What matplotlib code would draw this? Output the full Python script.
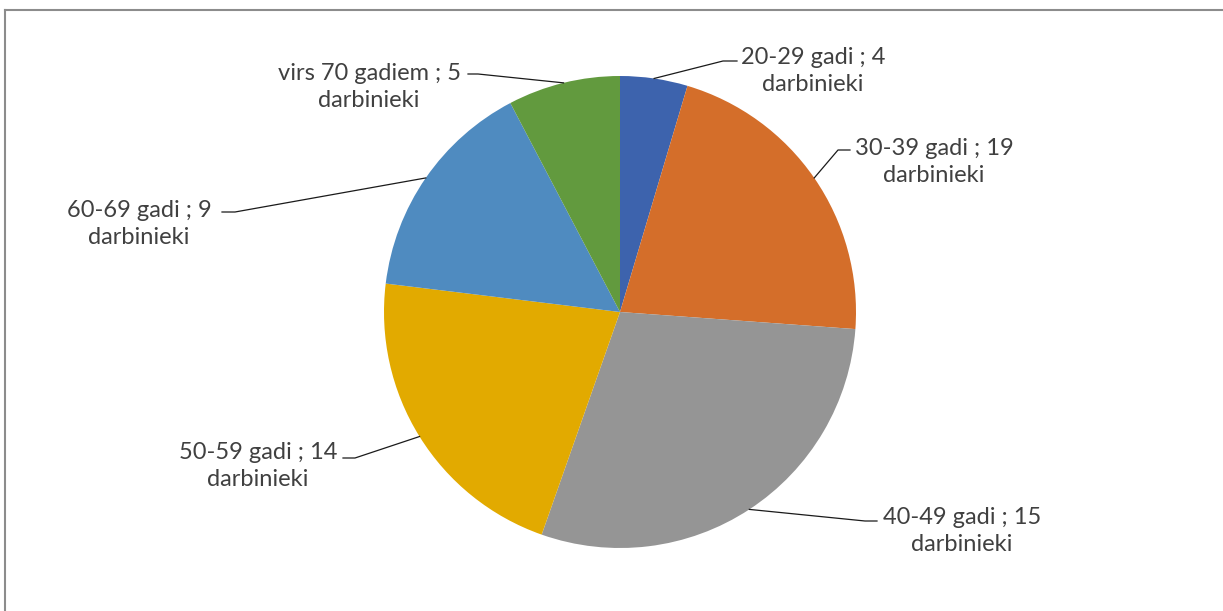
import numpy as np
import matplotlib
matplotlib.use("Agg")
import matplotlib.pyplot as plt
from matplotlib.lines import Line2D

# slice sizes as drawn, and the counts written in the labels
groups = ["20-29 gadi", "30-39 gadi", "40-49 gadi", "50-59 gadi", "60-69 gadi", "virs 70 gadiem"]
sizes = [3, 14, 19, 14, 10, 5]
label_counts = [4, 19, 15, 14, 9, 5]
colors = ["#3D63AD", "#D46E2A", "#959595", "#E2AA00", "#4F8BC0", "#629A3E"]

W, H = 1223, 611
CX, CY, R = 620, 312, 236  # pie centre / radius in pixels

def px(x, y):
    # pixel position -> pie data coords
    return (x - CX) / R, (CY - y) / R

# label block centre, leader elbow, leader end (pixels)
label_pos = [(813, 71), (934, 162), (962, 531), (258, 466), (139, 224), (369, 87)]
elbows = [(723, 61), (838, 150), (865, 521), (355, 458), (235, 212), (478, 74)]
ends = [(737, 61), (850, 150), (877, 521), (343, 458), (222, 212), (468, 74)]

plt.rcParams['font.family'] = ['Lato', 'DejaVu Sans']

fig = plt.figure(figsize=(W / 100, H / 100), dpi=100)
ax = fig.add_axes([(CX - R) / W, (H - CY - R) / H, 2 * R / W, 2 * R / H])
wedges, _ = ax.pie(sizes, colors=colors, startangle=90, counterclock=False,
                   radius=1, wedgeprops=dict(linewidth=0))
ax.set_xlim(-1, 1)
ax.set_ylim(-1, 1)
ax.set_aspect('equal')
ax.axis('off')

for i, w in enumerate(wedges):
    mid = np.deg2rad((w.theta1 + w.theta2) / 2)
    sx, sy = np.cos(mid), np.sin(mid)
    ex, ey = px(*elbows[i])
    tx, ty = px(*ends[i])
    ax.plot([sx, ex, tx], [sy, ey, ty], color="#1a1a1a", lw=0.9, clip_on=False)
    lx, ly = px(*label_pos[i])
    ax.text(lx, ly, "%s ; %d\ndarbinieki" % (groups[i], label_counts[i]),
            ha='center', va='center', multialignment='center',
            fontsize=17, color="#404040", linespacing=1.3)

# chart frame (top and left edges visible)
fig.add_artist(Line2D([4.5 / W, 4.5 / W], [0, 1 - 9.5 / H], transform=fig.transFigure,
                      color="#8c8c8c", lw=1.5))
fig.add_artist(Line2D([4.5 / W, 1], [1 - 9.5 / H, 1 - 9.5 / H], transform=fig.transFigure,
                      color="#8c8c8c", lw=1.5))

plt.savefig("out.png", dpi=100)
